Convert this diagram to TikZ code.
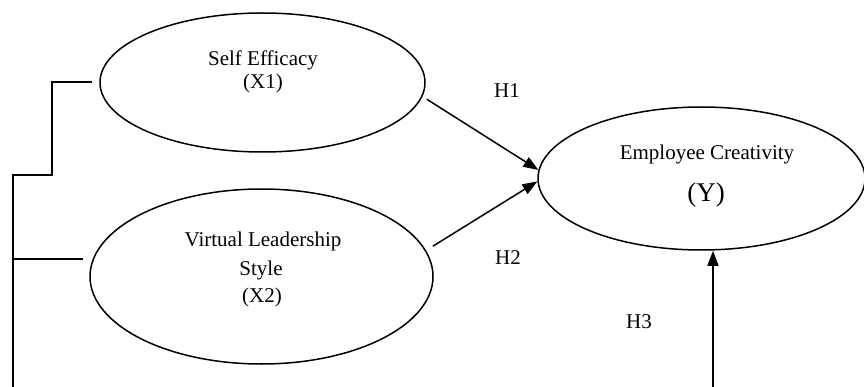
\documentclass[tikz,border=0pt]{standalone}
\usepackage{fontspec}
\setmainfont{Liberation Serif}
\usetikzlibrary{shapes.geometric,arrows.meta,calc}
\begin{document}
\begin{tikzpicture}[x=1pt,y=-1pt,
  oval/.style={draw,ellipse,line width=1.5pt,inner sep=0pt},
  lbl/.style={anchor=base,inner sep=0pt,font=\fontsize{21}{25}\selectfont},
  conn/.style={line width=1.5pt},
  arr/.style={conn,-{Triangle[length=15pt,width=11pt]}}]
\useasboundingbox (0,0) rectangle (864,387);
\fill[white] (0,0) rectangle (864,387);
\node[oval,minimum width=325pt,minimum height=139pt] (e1) at (262.5,82.5) {};
\node[oval,minimum width=343pt,minimum height=175pt] (e2) at (261.5,276.5) {};
\node[oval,minimum width=327pt,minimum height=143pt] (e3) at (701.5,178.5) {};
\node[lbl] (t1a) at (263,66) {Self Efficacy};
\node[lbl] (t1b) at (263,89) {(X1)};
\node[lbl] (t2a) at (263,247) {Virtual Leadership};
\node[lbl] (t2b) at (261,275) {Style};
\node[lbl] (t2c) at (262,302) {(X2)};
\node[lbl] (t3a) at (707,160) {Employee Creativity};
\node[lbl,font=\fontsize{27}{30}\selectfont] (t3b) at (706,202) {(Y)};
\node[lbl] (h1) at (507,98) {H1};
\node[lbl] (h2) at (508,265) {H2};
\node[lbl] (h3) at (639,328) {H3};
\coordinate (p1) at (92,82);
\coordinate (p2) at (52,175);
\coordinate (p3) at (13,390);
\coordinate (p4) at (83,259);
\draw[conn] (p1) -| (p2) -| (p3);
\draw[conn] (p4) -- (p4 -| p3);
\draw[arr,shorten <=5pt] (e1.-5) -- (e3.177);
\draw[arr,shorten <=8pt] (e2.9) -- (e3.181);
\coordinate (p5) at (713,390);
\draw[arr] (p5) -- (p5 |- e3.south);
\end{tikzpicture}
\end{document}
